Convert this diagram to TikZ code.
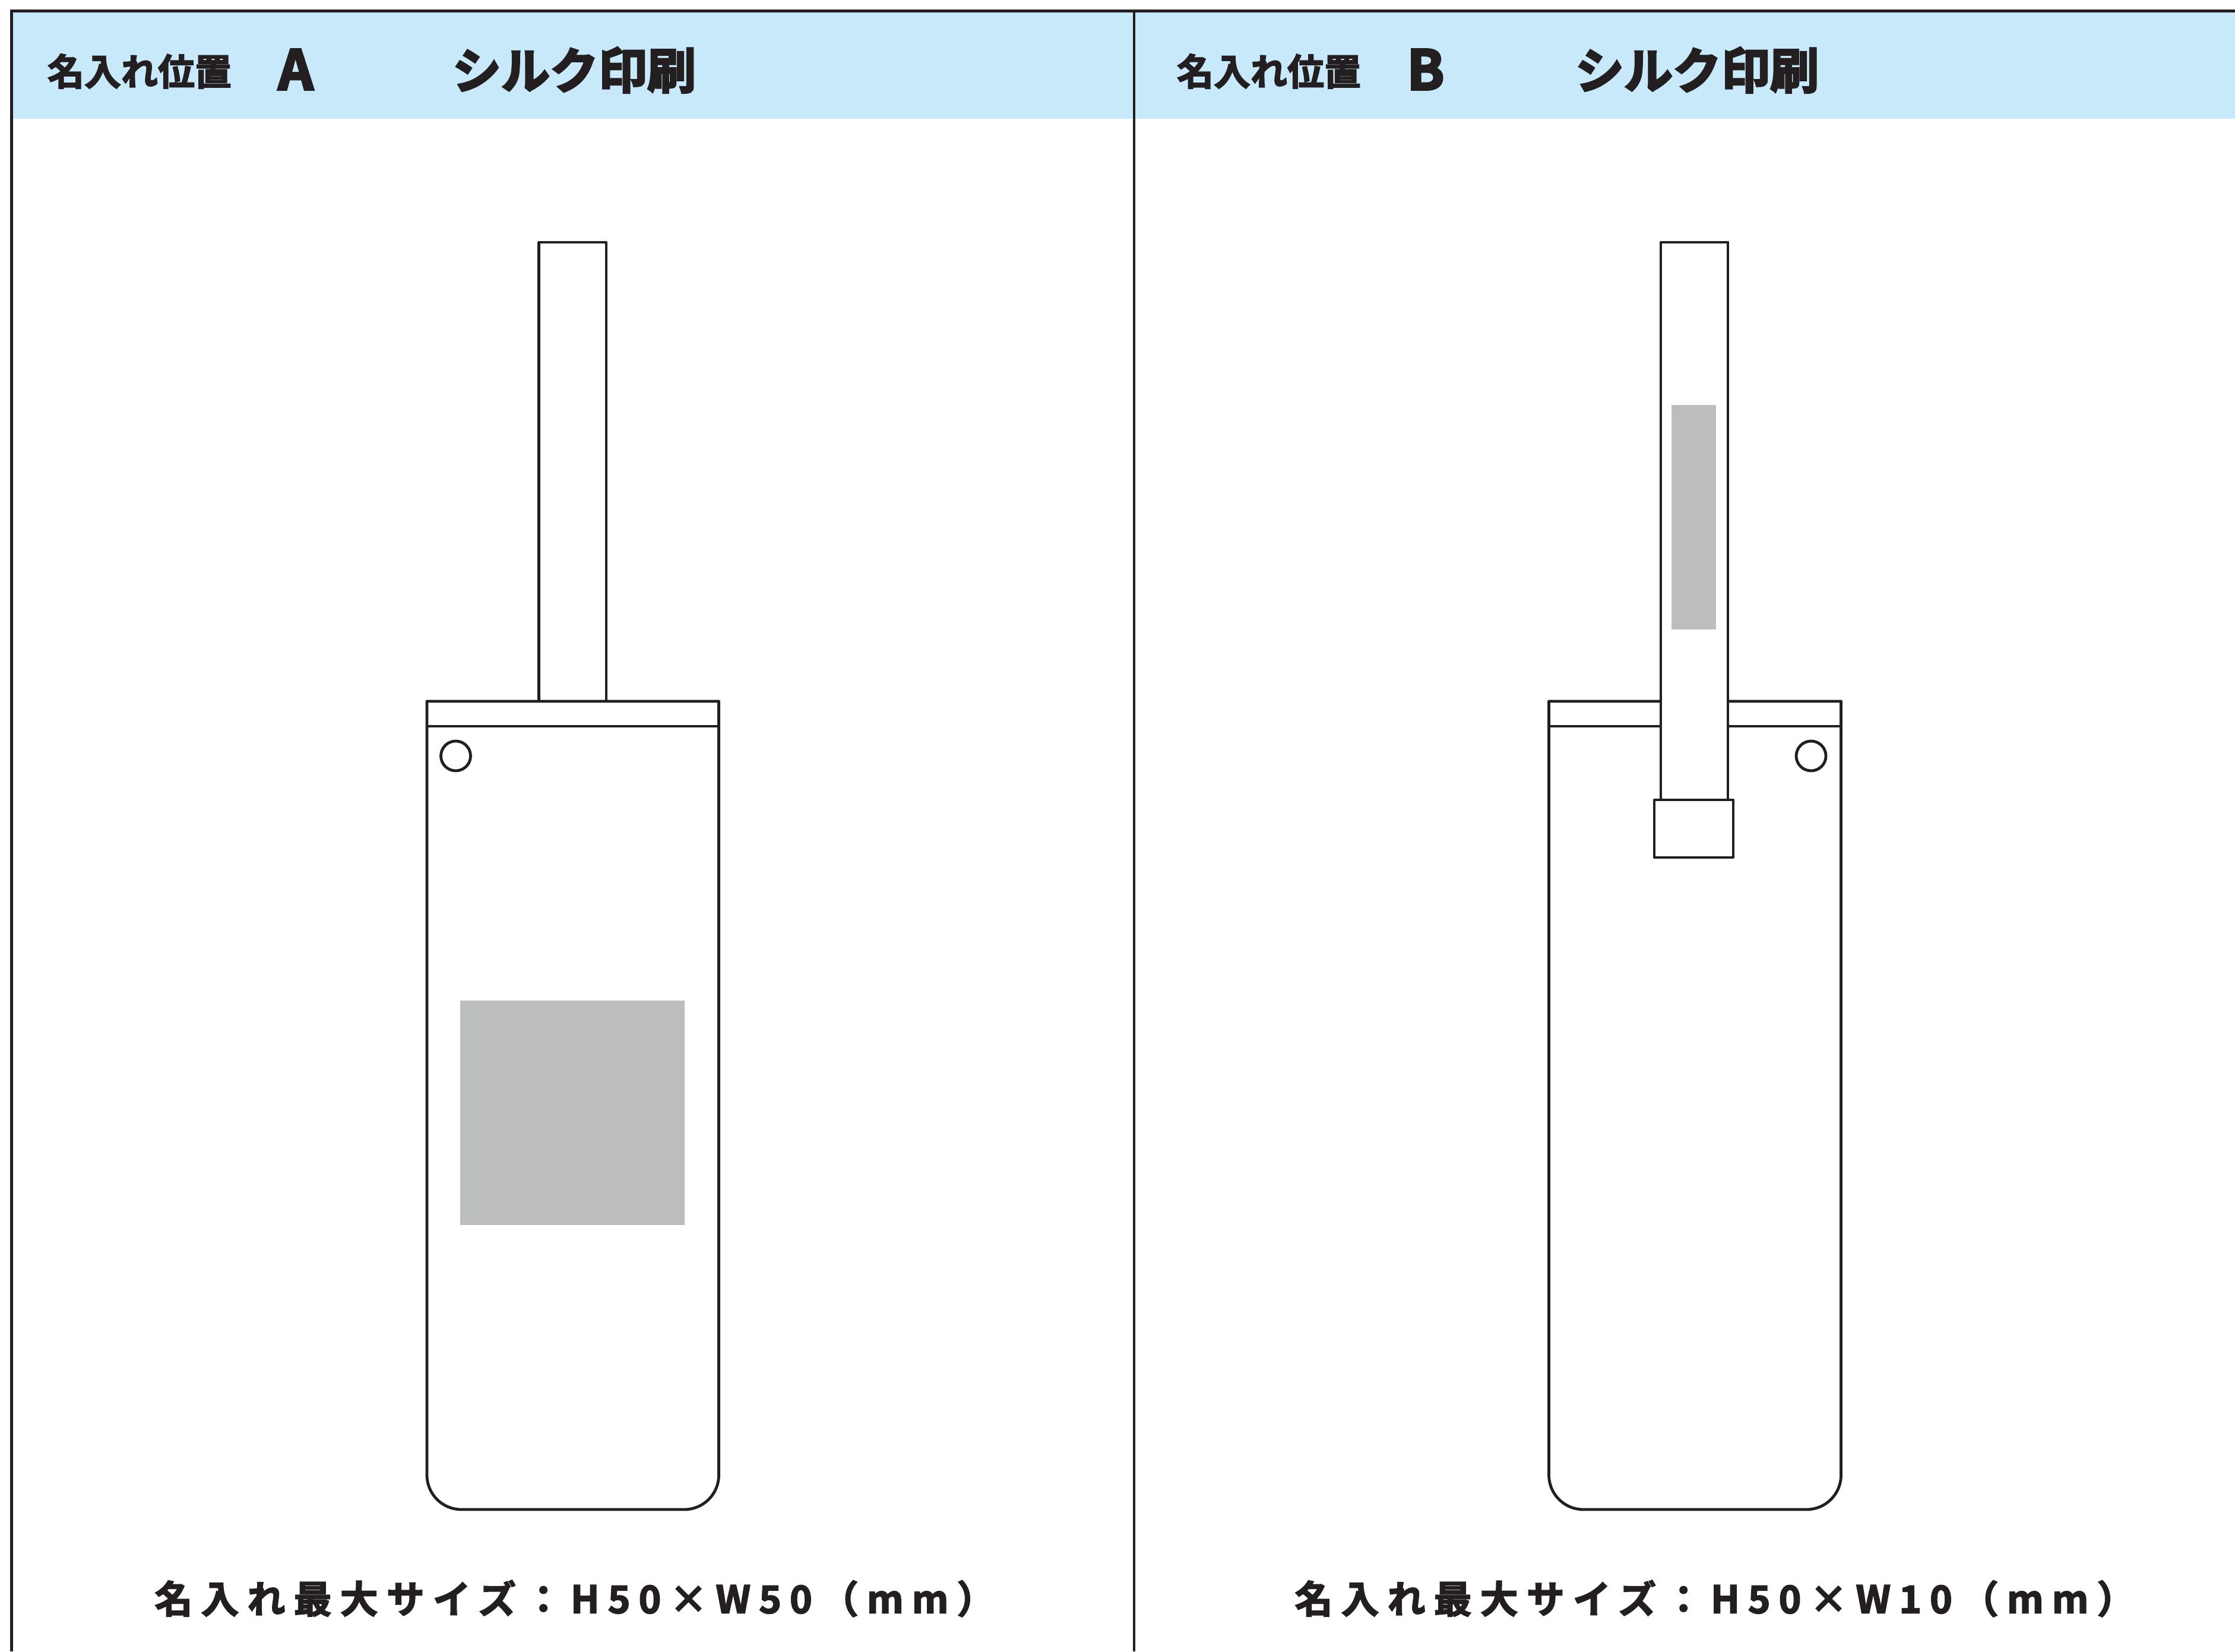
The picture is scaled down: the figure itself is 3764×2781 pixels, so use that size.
\documentclass[tikz,border=0pt]{standalone}
\usepackage{fontspec}
\newfontfamily\jpb[FakeBold=4]{Noto Sans CJK JP Bold}
\newfontfamily\jpbm[FakeBold=2.8]{Noto Sans CJK JP Bold}
\newfontfamily\jpbs[LetterSpace=22,FakeBold=2.8]{Noto Sans CJK JP Bold}
\definecolor{ink}{HTML}{231F20}
\definecolor{band}{HTML}{C7E9FA}
\definecolor{zone}{HTML}{BBBDBF}
\tikzset{
  x=0.25pt,y=-0.25pt,
  outline/.style={draw=ink,line width=1.2pt,fill=white,line join=round},
  frameline/.style={draw=ink,line width=1.3pt},
  zonebox/.style={fill=zone,draw=none},
  headsm/.style={text=ink,inner sep=0,anchor=center,font=\jpbm\fontsize{15.5}{15.5}\selectfont},
  headlg/.style={text=ink,inner sep=0,anchor=center,font=\jpb\fontsize{20.5}{20.5}\selectfont},
  headlt/.style={text=ink,inner sep=0,anchor=center,font=\jpb\fontsize{23}{23}\selectfont},
  foot/.style={text=ink,inner sep=0,anchor=center,font=\jpbs\fontsize{16}{16}\selectfont},
}
\begin{document}
\begin{tikzpicture}
\useasboundingbox (0,0) rectangle (3764,2781);
\fill[white] (0,0) rectangle (3764,2781);
% header band
\fill[band] (19.5,18.5) rectangle (3764,200);
% frame
\draw[frameline] (19.5,2781) -- (19.5,18.5) -- (3764,18.5);
\draw[draw=ink,line width=0.9pt] (1910,18.5) -- (1910,2781);
% headers
\node[headsm] (la) at (235,120) {名入れ位置};
\node[headlt] (lA) at (498,117) {A};
\node[headlg] (ma) at (967,118) {シルク印刷};
\node[headsm] (lb) at (2137,120) {名入れ位置};
\node[headlt] (lB) at (2401,117) {B};
\node[headlg] (mb) at (2858,118) {シルク印刷};
% panel A
\draw[outline] (907.5,408) rectangle (1021,1181);
\draw[outline] (719,1181) -- (1210.5,1181) -- (1210.5,2484) arc[start angle=0,end angle=90,radius=58] -- (777,2542) arc[start angle=90,end angle=180,radius=58] -- cycle;
\draw[outline] (719,1223) -- (1210.5,1223);
\draw[outline] (767.5,1273) circle[radius=25];
\fill[zonebox] (775,1685) rectangle (1153,2063);
% panel B
\draw[outline] (2608.5,1181) -- (3100.5,1181) -- (3100.5,2484) arc[start angle=0,end angle=90,radius=58] -- (2666.5,2542) arc[start angle=90,end angle=180,radius=58] -- cycle;
\draw[outline] (2608.5,1223) -- (3100.5,1223);
\draw[outline] (3050,1273) circle[radius=25];
\draw[outline] (2797,408) rectangle (2910,1400);
\draw[outline] (2786,1347) rectangle (2919,1444);
\fill[zonebox] (2815,682) rectangle (2890,1060);
% captions
\node[foot] (ca) at (968,2692) {名入れ最大サイズ：H50×W50（mm）};
\node[foot] (cb) at (2888,2692) {名入れ最大サイズ：H50×W10（mm）};
\end{tikzpicture}
\end{document}
